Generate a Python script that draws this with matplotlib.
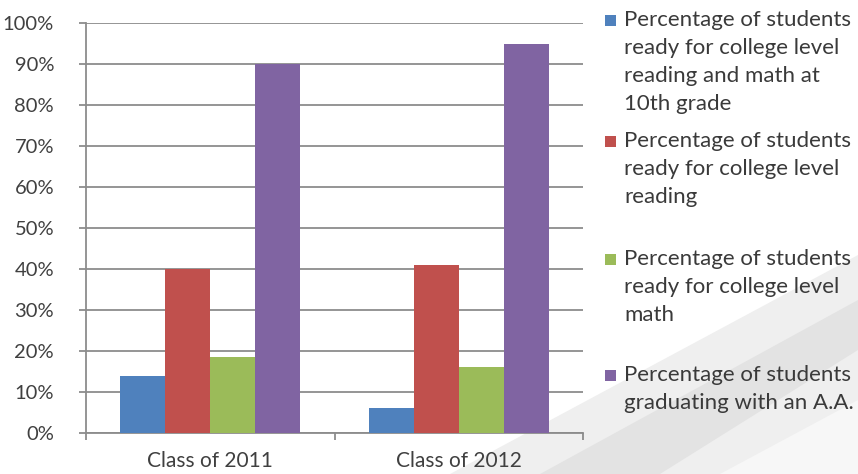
import numpy as np
import matplotlib.pyplot as plt
from matplotlib.patches import Rectangle, Polygon

plt.rcParams['font.family'] = ['Lato', 'DejaVu Sans']

categories = ['Class of 2011', 'Class of 2012']
series_names = [
    'Percentage of students\nready for college level\nreading and math at\n10th grade',
    'Percentage of students\nready for college level\nreading',
    'Percentage of students\nready for college level\nmath',
    'Percentage of students\ngraduating with an A.A.',
]
ready_both = [14, 6]
ready_reading = [40, 41]
ready_math = [18.5, 16]
graduating_aa = [90, 95]
values = [ready_both, ready_reading, ready_math, graduating_aa]
colors = ['#4F81BD', '#C0504D', '#9BBB59', '#8064A2']
y_ticks = [0, 10, 20, 30, 40, 50, 60, 70, 80, 90, 100]

W, H = 858, 474
fig = plt.figure(figsize=(W / 100, H / 100), dpi=100)
fig.patch.set_facecolor('white')

# faint grey swoosh of the slide background, lower right
bg = fig.add_axes([0, 0, 1, 1], zorder=0)
bg.set_xlim(0, W)
bg.set_ylim(H, 0)
bg.axis('off')
bg.add_patch(Polygon([(450, 474), (858, 255), (858, 474)], closed=True,
                     facecolor='#efefef', edgecolor='none'))
bg.add_patch(Polygon([(540, 474), (858, 300), (858, 350), (660, 474)], closed=True,
                     facecolor='#dedede', edgecolor='none', alpha=0.7))
bg.add_patch(Polygon([(720, 474), (858, 400), (858, 474)], closed=True,
                     facecolor='#f7f7f7', edgecolor='none'))

ax = fig.add_axes([86 / W, 1 - 433 / H, (583 - 86) / W, (433 - 23) / H], zorder=1)
ax.patch.set_alpha(0)

x = np.arange(len(categories))
bw = 0.181
for i, (vals, col) in enumerate(zip(values, colors)):
    ax.bar(x + (i - 1.5) * bw, vals, width=bw, color=col, zorder=3)

grid_c = '#8c8c8c'
ax.set_ylim(0, 100)
ax.set_xlim(-0.5, 1.5)
ax.set_yticks(y_ticks)
ax.set_yticklabels([f'{t}%' for t in y_ticks])
ax.yaxis.grid(True, color=grid_c, linewidth=1.3, zorder=0)
ax.set_axisbelow(True)

ax.set_xticks(x)
ax.set_xticklabels(categories)
ax.set_xticks([-0.5, 0.5, 1.5], minor=True)
ax.tick_params(axis='x', which='major', length=0, pad=13, labelsize=15, labelcolor='#404040')
ax.tick_params(axis='x', which='minor', length=5, width=1.3, color=grid_c, direction='out')
ax.tick_params(axis='y', length=5, width=1.3, color=grid_c, pad=18, labelsize=14.5,
               labelcolor='#404040')

for s in ['top', 'right']:
    ax.spines[s].set_visible(False)
for s in ['left', 'bottom']:
    ax.spines[s].set_color(grid_c)
    ax.spines[s].set_linewidth(1.3)

# legend, markers aligned with the first line of each entry
legend_y = [20, 141, 259, 375]
line_h = 28
for name, col, ly in zip(series_names, colors, legend_y):
    bg.add_patch(Rectangle((605, ly - 5), 11, 11, facecolor=col, edgecolor='none', zorder=5))
    for k, line in enumerate(name.split('\n')):
        bg.text(624, ly + k * line_h, line, fontsize=16, color='#3a3a3a',
                va='center', ha='left', zorder=5)

fig.savefig('out.png', dpi=100)
